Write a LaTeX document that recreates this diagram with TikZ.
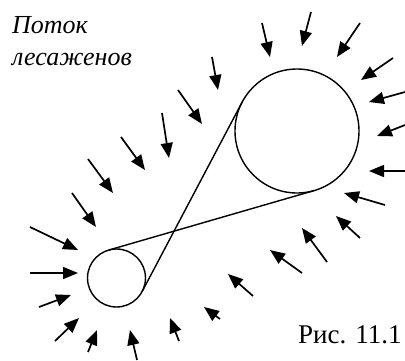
\documentclass[tikz,border=0pt]{standalone}
\usepackage{fontspec}
\setmainfont{Liberation Serif}
\usetikzlibrary{arrows.meta,calc}
\begin{document}
\begin{tikzpicture}[x=1pt,y=-1pt,
  wheel/.style={circle,draw,line width=1.4pt,inner sep=0pt,outer sep=0pt},
  belt/.style={line width=1.4pt},
  flow/.style={line width=1.7pt,-{Triangle[length=15pt,width=12pt]}},
  lbl/.style={inner sep=0pt,anchor=base west,font=\fontsize{27}{30}\selectfont},
  ilbl/.style={lbl,font=\itshape\fontsize{26}{30}\selectfont}]
\useasboundingbox (0,0) rectangle (405,360);
\node[ilbl] (t1) at (12,33) {Поток};
\node[ilbl] (t2) at (12,65) {лесаженов};
\node[lbl] (t3) at (298,343) {Рис. 11.1};
\node[wheel,minimum size=124pt] (big) at (297,131) {};
\node[wheel,minimum size=58pt] (small) at (116.5,278) {};
\coordinate (P) at ($(small.center)!0.3187!(big.center)$);
\draw[belt] (tangent cs:node=small,point={(P)},solution=1) -- (tangent cs:node=big,point={(P)},solution=1);
\draw[belt] (tangent cs:node=small,point={(P)},solution=2) -- (tangent cs:node=big,point={(P)},solution=2);
\foreach \xa/\ya/\xb/\yb in {
  178/90/202/124, 212/57/218/90, 262/23/270/57, 311/12/302/46,
  360/23/337/57, 393/58/361/80, 405/92/369/102, 405/125/377/136,
  405/171/369/171, 385/205/344/193, 360/238/336/216, 327/262/302/228,
  302/273/270/250, 253/296/228/274, 220/319/204/307, 179/341/170/318,
  137/360/130/330, 88/352/97/330, 55/341/79/318, 39/307/71/295,
  30/273/78/273, 30/227/78/250, 72/193/96/227, 88/159/113/193,
  121/137/145/170, 162/113/169/158}
  \draw[flow] (\xa,\ya) -- (\xb,\yb);
\end{tikzpicture}
\end{document}
